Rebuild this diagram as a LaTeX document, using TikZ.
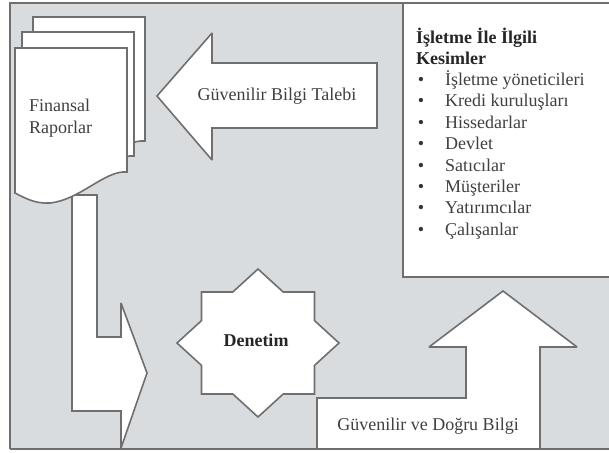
\documentclass[tikz,border=0pt]{standalone}
\usepackage{fontspec}
\setmainfont{Liberation Serif}
\definecolor{bggray}{HTML}{D9DCDF}
\definecolor{edge}{HTML}{6F6F6F}
\definecolor{ink}{HTML}{404040}
\tikzset{
  blockshape/.style={fill=white,draw=edge,line width=1.6pt,line join=miter,miter limit=2},
  lbl/.style={font=\fontsize{18}{20}\selectfont,text=ink,inner sep=0pt,text height=0.68em,text depth=0pt},
  boldlbl/.style={lbl,font=\fontsize{18}{20}\selectfont\bfseries,text=black!85},
  bulletlbl/.style={lbl,text=black!80}
}
\begin{document}
\begin{tikzpicture}[x=1pt,y=-1pt]
\useasboundingbox (0,0) rectangle (609,452);
% background
\fill[bggray] (10,3) rectangle (609,449);
\draw[edge,line width=1.5pt] (609,3) -- (10,3) -- (10,449);
% L-shaped arrow from reports down to the audit
\draw[blockshape] (72,195) -- (97,195) -- (97,337) -- (121,337) -- (121,303)
  -- (147,373) -- (121,448) -- (121,411) -- (72,411) -- cycle;
% stacked documents
\foreach \dx/\dy in {18/-31, 7/-16, 0/0}{
  \draw[blockshape,shift={(\dx,\dy)}] (15,48) -- (127,48) -- (127,172)
    .. controls (105,170) and (80,200) .. (50,203)
    .. controls (35,204) and (25,198) .. (15,193) -- cycle;
}
% left-pointing arrow
\draw[blockshape] (157,96) -- (212,33) -- (212,63) -- (377,63) -- (377,128)
  -- (212,128) -- (212,160) -- cycle;
% right box
\draw[blockshape] (612,3) -- (403,3) -- (403,277) -- (612,277);
% star
\draw[blockshape,shift={(258,343)}] (0,-74) -- (25.2,-51) -- (56.5,-51) -- (56.5,-22.4)
  -- (81,0) -- (56.5,22.4) -- (56.5,51) -- (25.2,51) -- (0,74) -- (-25.2,51)
  -- (-56.5,51) -- (-56.5,22.4) -- (-81,0) -- (-56.5,-22.4) -- (-56.5,-51)
  -- (-25.2,-51) -- cycle;
% up arrow
\draw[blockshape] (317,449) -- (317,398) -- (466,398) -- (466,347) -- (429,347)
  -- (503,291) -- (577,347) -- (540,347) -- (540,449) -- cycle;
% bottom border on top
\draw[edge,line width=1.5pt] (10,449) -- (609,449);
% texts
\node[lbl,anchor=west] (fin1) at (29,108) {Finansal};
\node[lbl,anchor=west] (fin2) at (29,130) {Raporlar};
\node[lbl] (talep) at (277,97) {Güvenilir Bilgi Talebi};
\node[boldlbl] (denetim) at (256,343) {Denetim};
\node[lbl] (dogru) at (428,427) {Güvenilir ve Doğru Bilgi};
\node[boldlbl,anchor=west] (head1) at (416,40) {İşletme İle İlgili};
\node[boldlbl,anchor=west] (head2) at (416,61) {Kesimler};
\foreach \t [count=\i from 0] in {İşletme yöneticileri, Kredi kuruluşları, Hissedarlar, Devlet, Satıcılar, Müşteriler, Yatırımcılar, Çalışanlar}{
  \node[bulletlbl] (b\i) at (421,82+21.4*\i) {•};
  \node[lbl,anchor=west] (item\i) at (445,82+21.4*\i) {\t};
}
\end{tikzpicture}
\end{document}
